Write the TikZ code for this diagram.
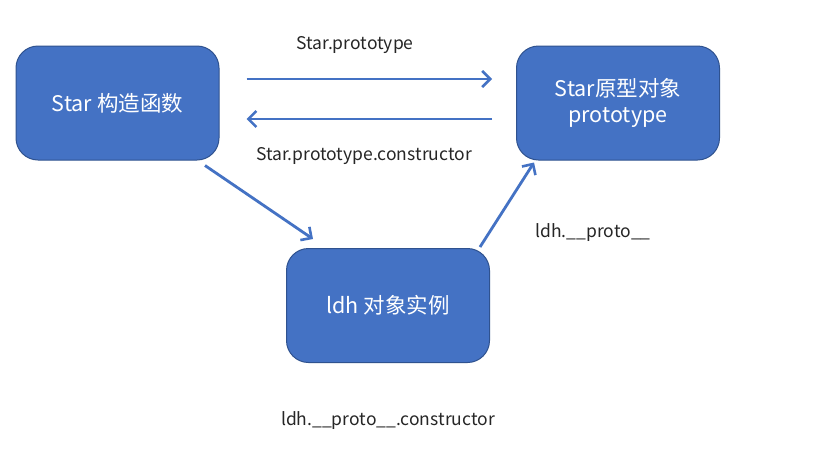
\documentclass[tikz,border=0pt]{standalone}
\usepackage{fontspec}
\setmainfont{Noto Sans CJK SC}
\usetikzlibrary{arrows.meta}
\definecolor{boxblue}{HTML}{4472C4}
\definecolor{boxedge}{HTML}{2F528F}
\begin{document}
\begin{tikzpicture}[x=1pt,y=-1pt,
  box/.style={draw=boxedge,line width=1pt,fill=boxblue,rounded corners=22pt,text=white,
    font=\fontsize{21.5}{27}\selectfont,align=center,minimum width=203pt,minimum height=114pt,inner sep=0pt},
  conn/.style={draw=boxblue,line width=2.8pt,-{Straight Barb[length=8pt,width=16pt,line width=2.6pt]}},
  lbl/.style={font=\fontsize{17.5}{21}\selectfont,text=black!85}]
\useasboundingbox[fill=white] (0,0) rectangle (824,458);
\node[box] (a) at (117.5,103) {Star 构造函数};
\node[box] (b) at (618,103) {Star原型对象\\[-1pt]prototype};
\node[box] (c) at (388,305.5) {ldh 对象实例};
\draw[conn] ([shift={(27,-24)}]a.east) -- ([shift={(-24,-24)}]b.west);
\draw[conn] ([shift={(-24,16)}]b.west) -- ([shift={(27,16)}]a.east);
\draw[conn] ([shift={(87.5,5)}]a.south) -- ([shift={(-75,-9)}]c.north);
\draw[conn] ([shift={(92,-1)}]c.north) -- ([shift={(-84,2)}]b.south);
\node[lbl] (l1) at (355,45) {Star.prototype};
\node[lbl] (l2) at (364,156) {Star.prototype.constructor};
\node[lbl] (l3) at (593,233) {ldh.\_\_proto\_\_};
\node[lbl] (l4) at (388,421) {ldh.\_\_proto\_\_.constructor};
\end{tikzpicture}
\end{document}
